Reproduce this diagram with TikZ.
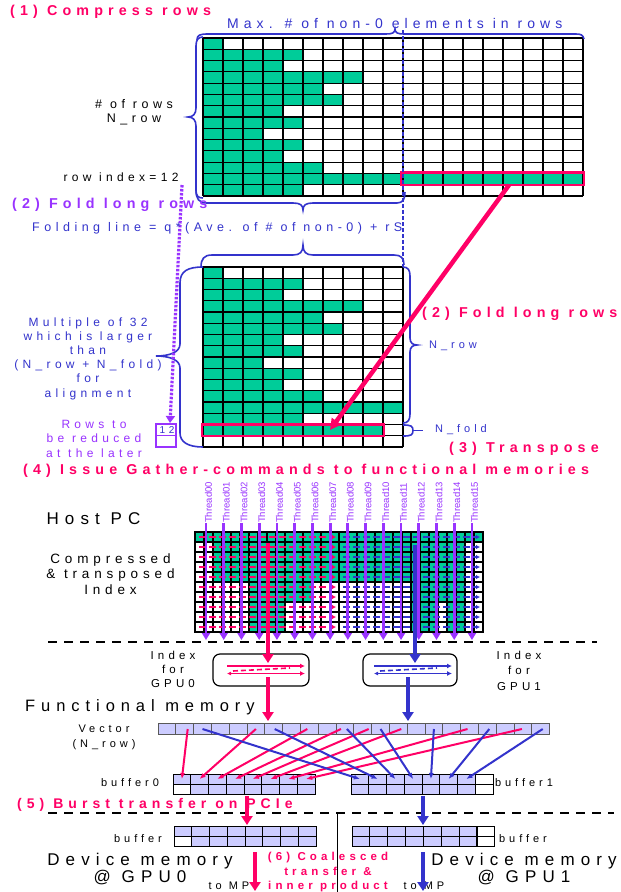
\documentclass[tikz,border=0pt]{standalone}
\usepackage{fontspec}
\setmainfont{Liberation Sans}
\newfontfamily\lsp[LetterSpace=36]{Liberation Sans}
\usetikzlibrary{arrows.meta,calc}
\definecolor{cred}{HTML}{FF0066}
\definecolor{cpur}{HTML}{9933FF}
\definecolor{cblu}{HTML}{3333CC}
\definecolor{cgrn}{HTML}{00CC99}
\definecolor{clav}{HTML}{CCCCFF}
\newcommand\fz[2]{\fontsize{#1}{#2}\selectfont}
\tikzset{
  txt/.style={inner sep=0pt, align=center},
  headr/.style={txt, anchor=west, text=cred, font={\lsp\bfseries\fz{14.3}{16}}},
  headp/.style={txt, anchor=west, text=cpur, font={\lsp\bfseries\fz{14.3}{16}}},
  gridl/.style={line width=1.2pt, black},
  brc/.style={cblu, line width=1.6pt},
  thl/.style={inner sep=0pt, rotate=90, anchor=west, text=cpur, font={\fz{9.5}{10}}},
  tharr/.style={cpur, line width=2.8pt, -{Triangle[length=7pt,width=8pt]}},
  dashline/.style={line width=2.6pt, dash pattern=on 9pt off 7pt},
  tarr/.style={line width=4.5pt, -{Triangle[length=9pt,width=11pt]}},
  vcell/.style={draw=black!65, fill=clav, minimum width=17.8pt, minimum height=10.5pt, inner sep=0pt, line width=0.9pt},
  bcell/.style={draw=black, fill=clav, minimum width=17.75pt, minimum height=10pt, inner sep=0pt, line width=0.9pt},
  rarr/.style={cred, line width=2pt, -{Latex[length=6pt,width=5pt]}},
  barr/.style={cblu, line width=2pt, -{Latex[length=6pt,width=5pt]}},
}
\begin{document}
\begin{tikzpicture}[x=1pt,y=-1pt]
\useasboundingbox (0,0) rectangle (621,892);
\fill[white] (0,0) rectangle (621,892);

%% ---------- top matrix ----------
\foreach \rr/\nn in {0/1,1/5,2/4,3/8,4/6,5/7,6/4,7/5,8/3,9/5,10/4,11/6,12/19,13/5}
  \fill[cgrn] (203,{38+11.2857*\rr}) rectangle ({203+20*\nn},{38+11.2857*(\rr+1)});
\foreach \i in {0,...,19} \draw[gridl] ({203+20*\i},38) -- ({203+20*\i},196);
\foreach \j in {0,...,14} \draw[gridl] (203,{38+11.2857*\j}) -- (583,{38+11.2857*\j});
\draw[cred, line width=2.6pt] (401,172.5) rectangle (584,185);

%% ---------- folded matrix ----------
\foreach \rr/\nn in {0/1,1/5,2/4,3/8,4/6,5/7,6/4,7/5,8/3,9/5,10/4,11/6,12/10,13/5,14/9}
  \fill[cgrn] (203,{267+11.25*\rr}) rectangle ({203+20*\nn},{267+11.25*(\rr+1)});
\foreach \i in {0,...,10} \draw[gridl] ({203+20*\i},267) -- ({203+20*\i},447);
\foreach \j in {0,...,16} \draw[gridl] (203,{267+11.25*\j}) -- (403,{267+11.25*\j});
\draw[cred, line width=2.6pt] (202,424.5) rectangle (384,436);

%% folding line
\coordinate (fl1) at (403,30); \coordinate (fl2) at (403,267);
\draw[cblu, line width=2.2pt, dash pattern=on 4pt off 2pt] (fl1) -- (fl2);

%% braces
\draw[brc] (197,40) .. controls (197,35) and (200,34) .. (208,34) -- (386,34)
  .. controls (392,34) and (395,33) .. (395,29) .. controls (395,33) and (398,34) .. (404,34)
  -- (576,34) .. controls (581,34) and (583,35) .. (584,39);
\draw[brc] (203,37) .. controls (198,37) and (196,40) .. (196,46) -- (196,108)
  .. controls (196,114) and (193,117) .. (188,117) .. controls (193,117) and (196,120) .. (196,126)
  -- (196,190) .. controls (196,196) and (198,198) .. (203,198);
\draw[brc] (196,190) .. controls (196,199) and (199,203) .. (207,203) -- (293,203)
  .. controls (300,203) and (303,205) .. (303,210) .. controls (303,205) and (306,203) .. (313,203)
  -- (397,203) .. controls (403,203) and (405,199) .. (405,192);
\draw[brc] (201,267) .. controls (201,259) and (204,255) .. (212,255) -- (293,255)
  .. controls (300,255) and (303,252) .. (303,245) .. controls (303,252) and (306,255) .. (313,255)
  -- (394,255) .. controls (401,255) and (404,258) .. (404,265);
\draw[brc] (203,267) .. controls (188,267) and (180,271) .. (180,283) -- (180,344)
  .. controls (180,352) and (170,356) .. (156,356) .. controls (170,356) and (180,360) .. (180,368)
  -- (180,433) .. controls (180,442) and (188,447) .. (203,447);
\draw[brc] (403,267) .. controls (408,267) and (410,270) .. (410,276) -- (410,338)
  .. controls (410,343) and (413,345) .. (417,345) .. controls (413,345) and (410,347) .. (410,352)
  -- (410,414) .. controls (410,420) and (408,423) .. (403,423);
\draw[brc] (403,425) .. controls (411,425) and (413,426) .. (413,430.5)
  .. controls (413,435) and (411,436) .. (403,436);
\draw[brc] (413,430.5) -- (423,430.5);

%% row 12 marker box
\node[draw=cpur, line width=1.2pt, minimum width=20pt, minimum height=23pt, inner sep=0pt] (box12) at (166,435.5) {};
\draw[cpur, line width=1.2pt] (box12.west) -- (box12.east);
\node[txt, text=cblu, font={\lsp\fz{10}{10}}] (lab12) at (167,430.5) {12};
\coordinate (rowsrc) at (182,185); \coordinate (rowdst) at (170,423);
\draw[cpur, line width=3.2pt, dash pattern=on 2.5pt off 1.5pt, -{Triangle[length=7pt,width=9pt]}] (rowsrc) -- (rowdst);

%% fold arrow
\coordinate (fa1) at (509,185); \coordinate (fa2) at (330,430);
\draw[cred, line width=4.5pt, -{Triangle[length=11pt,width=11pt]}] (fa1) -- (fa2);

%% ---------- texts top ----------
\node[headr] (t1) at (10,12) {(1) Compress rows};
\node[txt, anchor=west, text=cblu, font={\lsp\fz{14}{15}}] (tmax) at (227,23) {Max. \# of non-0 elements in rows};
\node[txt, font={\lsp\fz{12.5}{14}}] (trows) at (134,112) {\# of rows\\N\_row};
\node[txt, font={\lsp\fz{12}{14}}] (tidx) at (121,177) {row index=12};
\node[headp] (t2p) at (12,205) {(2) Fold long rows};
\node[txt, anchor=west, text=cblu, font={\lsp\fz{12.5}{14}}] (tfold) at (32,228) {Folding line = q*(Ave. of \# of non-0) + rS};
\node[txt, text=cblu, font={\lsp\fz{12}{14.2}}] (tmul) at (88,358.5) {Multiple of 32\\which is larger\\than\\(N\_row + N\_fold)\\for\\alignment};
\node[txt, text=cpur, font={\lsp\fz{12}{14.5}}] (tred) at (94,438.5) {Rows to\\be reduced\\at the later};
\node[headr] (t2r) at (422,314) {(2) Fold long rows};
\node[txt, text=cblu, font={\lsp\fz{11}{13}}] (tnrow) at (453,346) {N\_row};
\node[txt, text=cblu, font={\lsp\fz{11}{13}}] (tnfold) at (461,429.5) {N\_fold};
\node[headr] (t3) at (449,449) {(3) Transpose};
\node[headr] (t4) at (23,471) {(4) Issue Gather-commands to functional memories};

%% ---------- host PC ----------
\node[txt, font={\lsp\fz{17}{18}}] (thost) at (93.5,519) {Host PC};
\node[txt, font={\lsp\fz{13.5}{15.5}}] (tcomp) at (110.5,574) {Compressed\\\& transposed\\Index};

\foreach \rr/\a/\b in {0/0/16,1/2/16,2/2/16,3/2/16,4/2/16,5/6/13,6/6/13,7/6/10,8/6/10,9/6/10}
  \fill[cgrn] ({195+9*\a},{532+10*\rr}) rectangle ({195+9*\b},{532+10*(\rr+1)});
\foreach \rr/\a/\b in {0/0/16,1/0/14,2/0/14,3/0/14,4/0/14,5/8/14,6/8/14,7/8/11,7/12/14,8/8/11,8/12/14,9/8/11,9/12/14}
  \fill[cgrn] ({339+9*\a},{532+10*\rr}) rectangle ({339+9*\b},{532+10*(\rr+1)});
\foreach \i in {0,...,32} \draw[line width=1.1pt] ({195+9*\i},532) -- ({195+9*\i},632);
\foreach \j in {0,...,10} \draw[line width=1.1pt] (195,{532+10*\j}) -- (483,{532+10*\j});
\draw[line width=2.6pt] (195,532) rectangle (339,632);
\draw[line width=2.6pt] (339,532) rectangle (483,632);
\foreach \rr in {0,...,9} {
  \draw[cred, line width=1.5pt, dash pattern=on 7pt off 3pt, -{Latex[length=4pt,width=4.5pt]}] (199,{537+10*\rr}) -- (336,{537+10*\rr});
  \draw[cblu, line width=1.5pt, dash pattern=on 7pt off 3pt, -{Latex[length=4pt,width=4.5pt]}] (343,{537+10*\rr}) -- (480,{537+10*\rr});
}
\foreach \k/\lab in {0/00,1/01,2/02,3/03,4/04,5/05,6/06,7/07,8/08,9/09,10/10,11/11,12/12,13/13,14/14,15/15}{
  \node[thl] (th\k) at ({208.5+17.73*\k},523) {Thread\lab};
  \draw[tharr] ([xshift=-2.5pt]th\k.west) -- ++(0,117);
}
\coordinate (hl1) at (48,642); \coordinate (hl2) at (597,642);
\draw[dashline] (hl1) -- (hl2);

%% index boxes
\node[draw, rounded corners=7pt, line width=1.2pt, minimum width=96pt, minimum height=32pt, inner sep=0pt] (ix0) at (261,670) {};
\node[draw, rounded corners=7pt, line width=1.2pt, minimum width=94pt, minimum height=32pt, inner sep=0pt] (ix1) at (410,670) {};
\draw[cred, line width=1.6pt, -{Latex[length=5pt,width=5pt]}] (227,666) -- (305,666);
\draw[cred, line width=1.6pt, {Latex[length=4pt,width=4pt]}-{Latex[length=5pt,width=5pt]}] (227,673.5) -- (305,673.5);
\draw[cred, line width=1.6pt, dash pattern=on 5pt off 3pt] (233,671) -- (290,668);
\draw[cblu, line width=1.6pt, -{Latex[length=5pt,width=5pt]}] (374,666) -- (452,666);
\draw[cblu, line width=1.6pt, {Latex[length=4pt,width=4pt]}-{Latex[length=5pt,width=5pt]}] (374,673.5) -- (452,673.5);
\draw[cblu, line width=1.6pt, dash pattern=on 5pt off 3pt] (380,671) -- (437,668);

\coordinate (ra1) at (268,543); \coordinate (ra2) at (268,663);
\coordinate (ra3) at (268,677); \coordinate (ra4) at (268,721);
\coordinate (ba1) at (415,545); \coordinate (ba2) at (415,663);
\coordinate (ba3) at (408,677); \coordinate (ba4) at (408,721);
\draw[tarr, cred] (ra1) -- (ra2);
\draw[tarr, cred] (ra3) -- (ra4);
\draw[tarr, cblu] (ba1) -- (ba2);
\draw[tarr, cblu] (ba3) -- (ba4);

\node[txt, font={\lsp\fz{11.5}{14}}] (tix0) at (173,669) {Index\\for\\GPU0};
\node[txt, font={\lsp\fz{11.5}{15.5}}] (tix1) at (519,670.5) {Index\\for\\GPU1};

%% ---------- functional memory ----------
\node[txt, anchor=west, font={\lsp\fz{16.5}{18}}] (tfm) at (25,707) {Functional memory};
\node[txt, font={\lsp\fz{11}{15}}] (tvec) at (104,737.5) {Vector\\(N\_row)};
\foreach \i in {0,...,21} \node[vcell] (v\i) at ({158+17.8*(\i+0.5)},729) {};
\foreach \i in {0,...,7} {
  \node[bcell] (ba\i) at ({173+17.75*(\i+0.5)},779) {};
  \node[bcell] (bab\i) at ({173+17.75*(\i+0.5)},789) {};
  \node[bcell] (bb\i) at ({351+17.75*(\i+0.5)},779) {};
  \node[bcell] (bbb\i) at ({351+17.75*(\i+0.5)},789) {};
}
\node[bcell, fill=white] (wb0) at (bab0) {};
\node[bcell, fill=white] (wb1) at (bb7) {};
\node[bcell, fill=white] (wb2) at (bbb7) {};
\node[txt, font={\lsp\fz{11}{13}}] (tb0) at (130,783) {buffer0};
\node[txt, font={\lsp\fz{11}{13}}] (tb1) at (524,783) {buffer1};

\foreach \s/\t/\d in {1/0/3,5/1/0,8/2/-2,10/3/-4,11/4/6,13/5/3,17/6/-2,20/7/-1}
  \draw[rarr] ([xshift=\d pt]v\s.center) -- (ba\t.center);
\foreach \s/\t/\d in {2/0/0,6/1/1,10/2/2,12/3/0,15/4/0,18/5/2,21/6/2}
  \draw[barr] ([xshift=\d pt]v\s.center) -- (bb\t.center);

%% ---------- bottom ----------
\coordinate (pl1) at (48,813); \coordinate (pl2) at (614,813);
\draw[dashline] (pl1) -- (pl2);
\coordinate (vl1) at (337,813); \coordinate (vl2) at (337,892);
\draw[line width=0.8pt] (vl1) -- (vl2);
\node[txt, anchor=west, text=cred, font={\lsp\bfseries\fz{14}{15}}] (t5) at (17,805) {(5) Burst transfer on PCIe};

\foreach \i in {0,...,7} {
  \node[bcell] (dla\i) at ({174+17.75*(\i+0.5)},831.5) {};
  \node[bcell] (dlb\i) at ({174+17.75*(\i+0.5)},841.5) {};
  \node[bcell] (dra\i) at ({352+17.85*(\i+0.5)},831.5) {};
  \node[bcell] (drb\i) at ({352+17.85*(\i+0.5)},841.5) {};
}
\node[bcell, fill=white] (wd0) at (dlb0) {};
\node[bcell, fill=white] (wd1) at (dra7) {};
\node[bcell, fill=white] (wd2) at (drb7) {};
\node[txt, font={\lsp\fz{11}{13}}] (tbl) at (138,839) {buffer};
\node[txt, font={\lsp\fz{11}{13}}] (tbr) at (523,839) {buffer};

\coordinate (rb1) at (247,796); \coordinate (rb2) at (247,825);
\coordinate (bb1c) at (423,796); \coordinate (bb2c) at (423,825);
\coordinate (rc1) at (255,852); \coordinate (rc2) at (255,891);
\coordinate (bc1) at (423,852); \coordinate (bc2) at (423,891);

\node[txt, font={\lsp\fz{17}{16.5}}] (tdm0) at (140,869) {Device memory\\@ GPU0};
\node[txt, font={\lsp\fz{17}{16.5}}] (tdm1) at (524,869) {Device memory\\@ GPU1};
\node[txt, text=cred, font={\lsp\bfseries\fz{11.5}{14.5}}] (t6) at (328,872.5) {(6) Coalesced\\transfer \&\\inner product};
\node[txt, font={\lsp\fz{11}{13}}] (tmp0) at (229,886) {to MP};
\node[txt, font={\lsp\fz{11}{13}}] (tmp1) at (424,886) {to MP};

\draw[tarr, cred] (rb1) -- (rb2);
\draw[tarr, cblu] (bb1c) -- (bb2c);
\draw[tarr, cred] (rc1) -- (rc2);
\draw[tarr, cblu] (bc1) -- (bc2);
\end{tikzpicture}
\end{document}
